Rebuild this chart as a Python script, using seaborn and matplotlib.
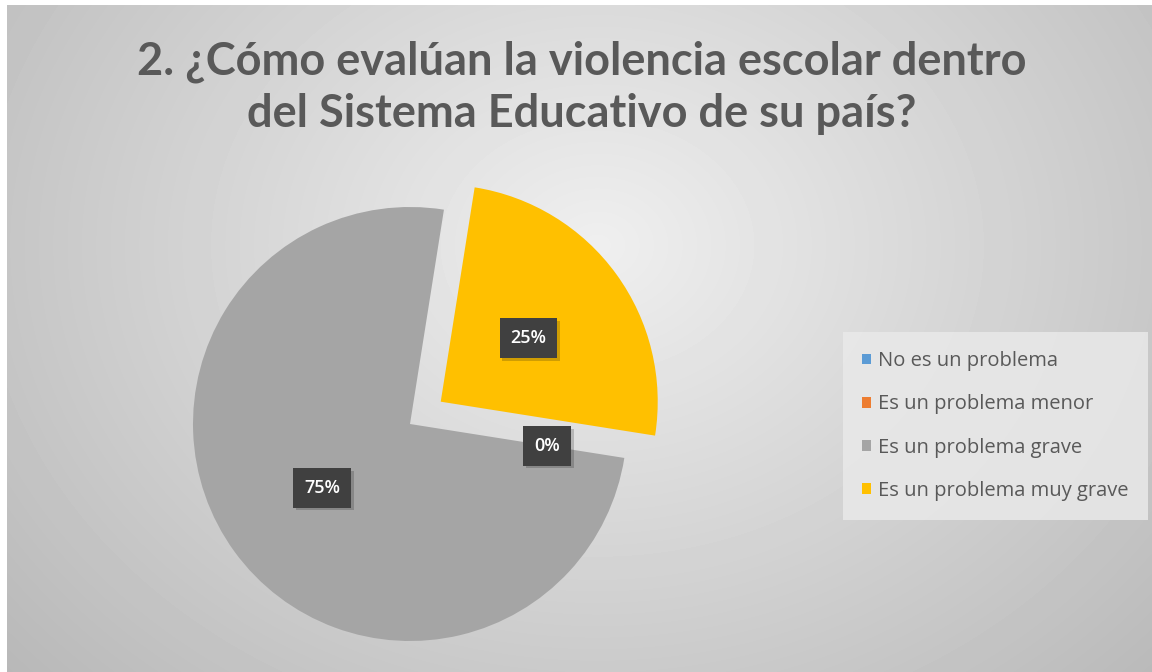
import numpy as np
import matplotlib
matplotlib.use("Agg")
import matplotlib.pyplot as plt
import matplotlib.patheffects as pe
import seaborn as sns

# data
categorias = ["No es un problema", "Es un problema menor",
              "Es un problema grave", "Es un problema muy grave"]
porcentajes = [0, 0, 75, 25]
colores = ["#5B9BD5", "#ED7D31", "#A5A5A5", "#FFC000"]
separacion = [0, 0, 0, 0.175]
titulo = "2. ¿Cómo evalúan la violencia escolar dentro\ndel Sistema Educativo de su país?"

sns.set_theme(style="white")
plt.rcParams['font.family'] = ['Lato', 'DejaVu Sans']

W, H = 1152, 672
fig = plt.figure(figsize=(W / 100, H / 100), dpi=100)
fig.patch.set_facecolor("white")

# radial gradient background (Excel style)
bg = fig.add_axes([7 / W, 0, 1 - 7 / W, 1 - 5 / H])
yy, xx = np.mgrid[0:667, 0:1145]
r = np.sqrt(((xx - 590) / 720) ** 2 + ((yy - 240) / 580) ** 2)
val = np.clip(239 - 50 * r, 180, 250) / 255
bg.imshow(val, cmap="gray", vmin=0, vmax=1, aspect="auto", interpolation="bilinear")
bg.set_axis_off()

# pie
R = 217
cx, cy = 410, 424
ax = fig.add_axes([(cx - R) / W, (H - cy - R) / H, 2 * R / W, 2 * R / H])
wedges, texts, autotexts = ax.pie(
    porcentajes, colors=colores, explode=separacion, startangle=-9,
    counterclock=False, autopct='%1.0f%%', pctdistance=0.5,
    wedgeprops=dict(linewidth=0),
    textprops=dict(color="white", fontsize=13, fontweight="semibold",
                   family=['Open Sans', 'DejaVu Sans']),
)
ax.set_xlim(-1, 1)
ax.set_ylim(-1, 1)
ax.set_axis_off()
for w in wedges:
    w.set_clip_on(False)

vistos_cero = False
for w, t, p in zip(wedges, autotexts, porcentajes):
    t.set_bbox(dict(boxstyle="square,pad=0.6", facecolor="#404040", edgecolor="none"))
    t.get_bbox_patch().set_path_effects([pe.withSimplePatchShadow(offset=(2, -2), alpha=0.2), pe.Normal()])
    t.set_clip_on(False)
    if p == 0:
        if vistos_cero:
            t.set_visible(False)
            continue
        vistos_cero = True
        ang = np.deg2rad(w.theta1)
        t.set_position((0.64 * np.cos(ang), 0.64 * np.sin(ang)))

fig.text(0.505, 1 - 88 / H, titulo, ha="center", va="center", fontsize=32.5,
         fontweight="bold", color="#595959", linespacing=1.3)

leg = fig.legend(wedges, categorias, loc="center left",
                 bbox_to_anchor=(843 / W, 1 - 426 / H), frameon=True,
                 labelspacing=1.15, handlelength=0.45,
                 handleheight=0.45, handletextpad=0.35, borderpad=0.95,
                 borderaxespad=0, labelcolor="#595959", fancybox=False,
                 prop=dict(family=['Open Sans', 'DejaVu Sans'], size=14.5))
leg.get_frame().set_facecolor("#e9e9e9")
leg.get_frame().set_edgecolor("none")
leg.get_frame().set_alpha(0.85)

fig.savefig("out.png", dpi=100)
